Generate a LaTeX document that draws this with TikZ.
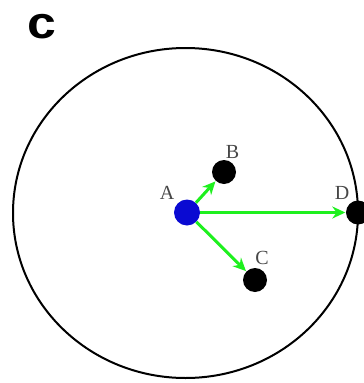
\documentclass[tikz,border=0pt]{standalone}
\usepackage{fontspec}
\setmainfont{Liberation Serif}
\newfontfamily\panelfont{Liberation Sans}
\usetikzlibrary{arrows.meta}
\definecolor{arrowgreen}{RGB}{30,240,30}
\definecolor{dotblue}{RGB}{10,10,210}
\tikzset{
  dotnode/.style={circle,fill=black,inner sep=0pt,minimum size=24pt},
  lbl/.style={font=\fontsize{20}{20}\selectfont,text=black!72,inner sep=0pt},
  link/.style={draw=arrowgreen,line width=3pt,-{Stealth[length=13pt,width=12pt]},shorten >=0.5pt}
}
\begin{document}
\begin{tikzpicture}[x=1pt,y=-1pt]
\useasboundingbox (0,0) rectangle (364,383);
\node[font=\panelfont\bfseries\fontsize{45}{45}\selectfont,inner sep=0pt,xscale=1.15] (panel) at (42,27) {c};
\draw[line width=2pt] (185.5,213) ellipse [x radius=172.5, y radius=165];
\node[dotnode] (B) at (224,172) {};
\node[dotnode] (C) at (255,280) {};
\node[dotnode] (D) at (358,212.5) {};
\node[circle,fill=dotblue,inner sep=0pt,minimum size=26pt] (A) at (187,212.5) {};
\node[lbl] (la) at (167,193) {A};
\node[lbl] (lb) at (232.5,152) {B};
\node[lbl] (lc) at (262,258) {C};
\node[lbl] (ld) at (342,193) {D};
\draw[link] (A) -- (B);
\draw[link] (A) -- (C);
\draw[link] (A) -- (D);
\end{tikzpicture}
\end{document}
